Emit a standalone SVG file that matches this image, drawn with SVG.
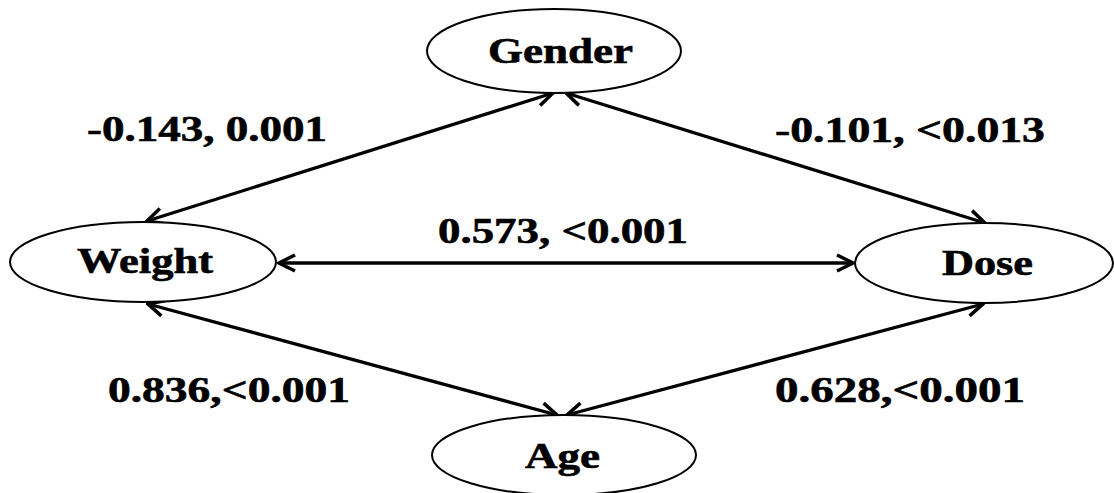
<svg xmlns="http://www.w3.org/2000/svg" width="1114" height="493" viewBox="0 0 1114 493">
<style>
.node ellipse{fill:#fff;stroke:#000;stroke-width:2}
text{font-family:"Liberation Serif","Times New Roman",serif;font-weight:bold;font-size:35px;fill:#000;stroke:#000;stroke-width:0.6}
.edge{stroke:#000;stroke-width:3.3;fill:none;marker-start:url(#ah);marker-end:url(#ah)}
</style>
<defs>
<marker id="ah" markerUnits="userSpaceOnUse" viewBox="-20 -11 22 22" refX="0" refY="0" markerWidth="22" markerHeight="22" orient="auto-start-reverse">
<path d="M-16,-8 L0,0 L-16,8" fill="none" stroke="#000" stroke-width="3.5" stroke-linejoin="miter"/>
</marker>
</defs>
<rect width="1114" height="493" fill="#fff"/>
<g id="connectors">
<line class="edge" x1="553" y1="93" x2="147" y2="221"/>
<line class="edge" x1="566" y1="93" x2="985" y2="223"/>
<line class="edge" x1="279" y1="263" x2="853" y2="263"/>
<line class="edge" x1="148" y1="304" x2="557" y2="415"/>
<line class="edge" x1="983" y1="304" x2="567" y2="415"/>
</g>
<g id="labels">
<text x="87" y="141" textLength="240" lengthAdjust="spacingAndGlyphs">-0.143, 0.001</text>
<text x="775" y="142" textLength="270" lengthAdjust="spacingAndGlyphs">-0.101, &lt;0.013</text>
<text x="438" y="243" textLength="250" lengthAdjust="spacingAndGlyphs">0.573, &lt;0.001</text>
<text x="108" y="402" textLength="242" lengthAdjust="spacingAndGlyphs">0.836,&lt;0.001</text>
<text x="775" y="402" textLength="250" lengthAdjust="spacingAndGlyphs">0.628,&lt;0.001</text>
</g>
<g id="gender" class="node">
<ellipse cx="554" cy="51" rx="127" ry="42"/>
<text x="488" y="63" textLength="145" lengthAdjust="spacingAndGlyphs">Gender</text>
</g>
<g id="weight" class="node">
<ellipse cx="143" cy="262" rx="133" ry="40"/>
<text x="77" y="273" textLength="136" lengthAdjust="spacingAndGlyphs">Weight</text>
</g>
<g id="dose" class="node">
<ellipse cx="984" cy="263" rx="129" ry="40"/>
<text x="942" y="275" textLength="91" lengthAdjust="spacingAndGlyphs">Dose</text>
</g>
<g id="age" class="node">
<ellipse cx="564" cy="455" rx="132" ry="40"/>
<text x="525" y="468" textLength="75" lengthAdjust="spacingAndGlyphs">Age</text>
</g>
</svg>
